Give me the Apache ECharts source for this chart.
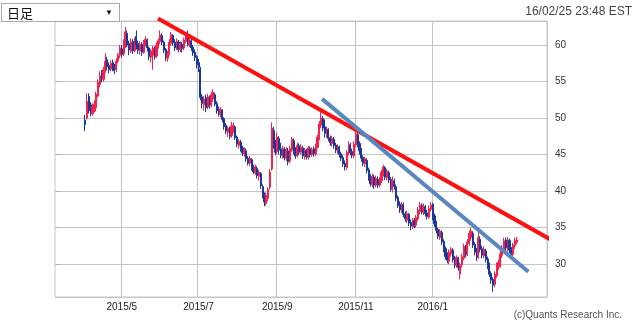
<!DOCTYPE html>
<html>
<head>
<meta charset="utf-8">
<script src="https://cdn.jsdelivr.net/npm/echarts@6/dist/echarts.min.js"></script>
<style>
  html, body { margin: 0; padding: 0; background: #fff; }
  #wrap { position: relative; width: 640px; height: 324px; overflow: hidden; font-family: "Liberation Sans", Arial, sans-serif; }
  #chart { position: absolute; left: 0; top: 0; width: 640px; height: 324px; }
  #period { position: absolute; left: 1px; top: 3px; width: 117px; height: 17px; border: 1px solid #a8a8a8; background: #fff; box-sizing: content-box; }
  #period .txt { position: absolute; left: 5px; top: 0; font-family: "Noto Sans CJK JP", sans-serif; font-size: 13px; line-height: 17px; color: #111; }
  #period .arr { position: absolute; right: 6px; top: 0; font-size: 8px; line-height: 17px; color: #111; }
  #stamp { position: absolute; right: 8px; top: 4px; font-size: 12px; color: #444; }
  #credit { position: absolute; right: 18px; top: 309px; font-size: 10px; color: #555; }
</style>
</head>
<body>
<div id="wrap">
  <div id="chart"></div>
  <div id="period"><span class="txt">日足</span><span class="arr">▼</span></div>
  <div id="stamp">16/02/25 23:48 EST</div>
  <div id="credit">(c)Quants Research Inc.</div>
</div>
<script>
// Daily candles: [open, close, low, high], first session 2015/04/02
const firstSession = '2015/04/02';
const candles = [
  [49.7,49.1,48.2,50.4],[50.0,52.3,49.8,53.4],[53.0,51.0,50.6,53.4],[51.8,50.6,50.2,52.2],[50.6,51.6,50.3,52.0],
  [51.2,51.9,50.8,52.4],[51.4,53.3,50.9,53.6],[53.0,54.9,52.8,55.3],[54.6,55.8,54.2,56.4],[56.2,55.4,54.9,56.6],
  [55.3,56.6,55.0,57.0],[56.5,57.8,56.2,58.9],[58.0,57.0,56.5,58.4],[57.2,56.6,56.1,57.6],[56.7,57.5,56.4,57.9],
  [57.6,56.9,56.4,58.0],[57.0,56.5,56.0,57.4],[56.6,57.8,56.3,58.2],[57.8,58.6,57.5,58.9],[58.6,59.6,58.2,60.0],
  [59.5,58.7,58.3,60.0],[58.8,60.2,58.5,60.8],[60.0,61.8,59.6,62.5],[61.6,60.0,59.7,62.0],[60.2,59.3,58.6,60.6],
  [59.2,60.4,58.9,60.9],[60.5,59.2,58.8,60.8],[59.2,60.6,59.0,61.0],[61.2,60.0,59.4,62.0],[60.2,59.3,58.8,60.6],
  [59.2,60.1,58.7,60.5],[60.1,59.0,58.5,60.4],[59.0,60.3,58.8,60.7],[60.2,60.8,59.8,61.2],[60.6,59.6,59.1,60.9],
  [59.6,58.4,57.9,59.8],[58.3,59.2,57.6,59.5],[58.6,59.6,56.6,59.9],[59.5,58.4,58.0,59.8],[58.5,60.0,58.2,60.4],
  [59.9,60.6,59.5,60.9],[60.5,61.4,60.1,62.0],[61.3,60.4,60.0,61.6],[60.4,59.3,58.9,60.6],[59.4,58.3,57.8,59.6],
  [58.2,58.8,57.7,59.2],[58.9,60.4,58.6,60.8],[60.2,61.4,59.9,61.8],[61.3,60.3,59.9,61.5],[60.4,59.6,59.2,60.8],
  [59.6,60.5,59.3,60.9],[60.4,59.4,59.0,60.7],[59.4,60.2,59.0,60.5],[60.1,59.5,59.0,60.4],[59.6,60.7,59.3,61.0],
  [60.5,61.3,60.2,61.6],[61.4,60.1,59.8,62.0],[60.0,60.8,59.7,61.1],[60.6,59.6,59.2,60.9],[59.7,58.9,58.5,60.0],
  [59.0,58.3,57.8,59.4],[58.4,57.3,56.8,58.6],[57.6,56.9,56.3,58.1],[56.7,52.8,52.4,57.0],[52.9,52.0,51.3,53.3],
  [51.8,52.6,51.0,53.0],[52.8,51.4,50.8,53.2],[51.5,52.9,51.2,53.3],[52.8,51.8,51.3,53.1],[51.8,53.2,51.5,53.6],
  [52.6,53.5,52.2,53.9],[53.2,51.9,51.6,53.5],[52.0,51.0,50.6,52.3],[51.2,50.6,50.2,51.6],[50.5,51.2,50.1,51.5],
  [51.0,49.8,49.4,51.2],[49.9,48.8,48.4,50.1],[49.0,48.2,47.8,49.3],[48.0,48.6,47.4,48.9],[48.5,47.5,47.1,48.8],
  [47.6,48.9,47.3,49.5],[48.4,49.0,48.0,49.4],[48.8,47.3,47.0,49.0],[47.4,46.4,46.0,47.6],[46.2,46.8,45.8,47.1],
  [46.7,45.8,45.4,47.0],[45.9,45.2,44.8,46.2],[45.1,45.7,44.7,46.0],[45.5,44.4,44.0,45.8],[44.5,43.8,43.5,44.8],
  [43.8,44.5,43.4,44.8],[44.3,43.2,42.8,44.5],[43.3,42.6,42.3,43.6],[42.5,43.3,42.2,43.6],[43.1,42.1,41.7,43.4],
  [42.0,42.6,41.4,42.9],[42.4,40.7,40.3,42.6],[40.6,39.4,39.0,40.9],[39.5,38.5,37.9,39.8],[38.3,39.4,38.0,39.8],
  [39.0,40.2,38.6,40.5],[40.5,42.6,40.2,43.0],[43.0,48.6,42.8,49.4],[48.3,46.4,45.8,48.8],[46.6,45.3,44.9,47.0],
  [45.4,47.4,45.1,48.0],[47.2,45.6,45.0,47.5],[45.8,44.9,44.5,46.6],[44.8,45.8,44.4,46.2],[45.7,44.6,44.2,46.0],
  [44.5,45.6,44.1,46.0],[45.5,44.0,43.5,45.9],[44.1,45.8,43.8,46.2],[45.6,47.1,45.3,47.4],[46.9,45.4,45.0,47.2],
  [45.6,44.8,44.4,46.0],[44.9,46.2,44.6,46.6],[46.2,45.3,44.9,46.5],[45.3,46.0,45.0,46.4],[45.9,44.8,44.4,46.2],
  [44.7,45.6,44.3,45.9],[45.5,44.7,44.3,45.8],[44.6,45.9,44.3,46.2],[45.8,45.0,44.6,46.1],[45.0,45.7,44.7,46.0],
  [45.8,45.1,44.7,46.1],[45.1,46.2,44.8,46.5],[46.0,47.4,45.8,47.7],[47.3,49.2,47.0,49.6],[49.0,50.0,48.6,50.8],
  [49.9,48.6,48.2,50.3],[48.8,47.9,47.3,49.8],[47.7,48.5,47.3,48.8],[48.4,47.2,46.8,48.6],[47.3,46.6,46.2,47.6],
  [46.5,47.2,46.1,47.5],[47.1,46.2,45.8,47.4],[46.3,45.6,45.2,46.6],[45.5,46.1,45.1,46.4],[46.0,45.0,44.6,46.2],
  [45.1,44.5,44.1,45.4],[44.6,43.7,43.3,44.9],[43.8,43.3,42.8,44.2],[43.2,45.3,42.9,45.6],[45.2,46.4,44.9,46.8],
  [46.2,45.3,44.9,46.6],[45.4,44.9,44.5,45.8],[44.8,46.4,44.5,46.8],[46.3,47.8,46.0,48.4],[47.7,46.4,46.0,48.0],
  [46.5,45.5,45.0,46.8],[45.6,44.5,44.0,45.9],[44.6,43.8,43.4,44.9],[43.7,44.4,43.3,44.7],[44.2,42.8,42.4,44.5],
  [42.9,41.8,41.4,43.2],[41.9,41.0,40.6,42.3],[40.9,42.0,40.5,42.4],[41.9,40.8,40.3,42.2],[40.8,41.7,40.5,42.1],
  [41.6,40.8,40.4,42.0],[40.8,41.6,40.5,41.9],[41.4,42.6,41.1,42.9],[42.4,43.3,42.0,43.6],[43.2,41.9,41.5,43.4],
  [41.8,42.7,41.5,43.0],[42.5,41.5,41.1,42.8],[41.6,40.3,39.9,41.9],[40.2,41.6,39.8,42.0],[41.4,40.6,40.2,41.7],
  [40.6,39.0,38.6,40.9],[39.1,38.0,37.7,39.4],[38.2,37.4,37.0,38.6],[37.3,38.2,37.0,38.5],[38.1,36.8,36.4,38.4],
  [36.9,36.2,35.8,37.2],[36.0,36.9,35.6,37.3],[36.8,35.6,35.2,37.0],[35.7,35.2,34.6,36.1],[35.1,36.0,34.8,36.3],
  [35.9,35.3,34.9,36.3],[35.3,36.4,35.0,36.7],[36.2,37.4,35.9,37.8],[37.2,38.1,36.8,38.5],[38.0,37.2,36.8,38.3],
  [37.1,37.9,36.7,38.3],[37.8,36.9,36.5,38.1],[37.0,36.5,36.1,37.4],[36.4,37.6,36.2,38.0],[37.5,38.1,37.2,38.5],
  [38.2,36.5,36.0,38.4],[36.6,35.5,35.1,36.9],[35.6,34.6,34.2,35.9],[34.7,33.8,33.4,35.0],[33.6,34.5,33.3,34.8],
  [34.3,33.0,32.6,34.6],[33.1,32.0,31.6,33.4],[32.1,31.0,30.6,32.4],[31.2,30.5,30.1,31.6],[30.4,31.6,30.0,32.0],
  [31.4,32.0,31.0,32.3],[31.9,30.6,30.2,32.2],[30.8,29.9,29.4,31.1],[29.8,30.9,29.5,31.2],[30.7,29.5,29.1,31.0],
  [28.6,29.9,27.9,30.2],[29.9,31.0,29.5,31.4],[30.8,32.4,30.5,32.8],[32.2,31.3,30.9,32.6],[31.4,33.0,31.1,33.4],
  [32.8,34.2,32.5,34.6],[33.6,34.5,33.2,35.0],[34.2,32.6,32.2,34.5],[32.7,31.6,31.2,33.0],[31.8,30.9,30.4,32.2],
  [31.0,33.6,30.7,34.5],[33.4,32.0,31.6,33.8],[32.1,31.2,30.8,32.5],[31.1,32.0,30.8,32.4],[31.8,30.6,30.2,32.1],
  [30.7,29.8,29.3,31.0],[29.9,28.6,28.2,30.2],[28.7,27.8,27.3,29.0],[27.9,27.1,26.2,28.2],[27.2,28.6,26.8,29.0],
  [28.4,29.8,28.1,30.2],[29.6,30.2,29.2,30.6],[29.8,31.4,29.5,31.8],[31.2,32.2,30.8,32.6],[32.0,33.2,31.7,33.6],
  [33.3,32.2,31.8,33.6],[32.0,33.3,31.7,33.7],[33.2,31.9,31.5,33.5],[32.0,31.4,31.0,32.3],[31.3,32.6,31.0,32.9],
  [32.5,33.2,32.1,33.6],[33.0,33.3,32.7,33.7]
];

// Session calendar shown on the time axis
const axisStart = '2015/03/11';
const sessionCount = 269;
const marketHolidays = ['2015/04/03','2015/05/25','2015/07/03','2015/09/07','2015/11/26','2015/12/25','2016/01/01','2016/01/18','2016/02/15','2016/03/25'];

// Month labels printed under the axis
const monthLabels = ['2015/5','2015/7','2015/9','2015/11','2016/1'];

// Trend lines: [session index, price]
const resistanceLine = [[55.8, 63.62], [272.3, 33.09]];
const channelLine = [[145.5, 52.62], [258.3, 28.95]];

// Price axis range
const priceMin = 25.48;
const priceMax = 63.29;

function pad2(n) { return (n < 10 ? '0' : '') + n; }
function fmt(d) { return d.getFullYear() + '/' + pad2(d.getMonth() + 1) + '/' + pad2(d.getDate()); }

function buildSessions(start, count, holidays) {
  const p = start.split('/').map(Number);
  const d = new Date(p[0], p[1] - 1, p[2]);
  const out = [];
  while (out.length < count) {
    const wd = d.getDay();
    const s = fmt(d);
    if (wd !== 0 && wd !== 6 && holidays.indexOf(s) < 0) out.push(s);
    d.setDate(d.getDate() + 1);
  }
  return out;
}

const sessions = buildSessions(axisStart, sessionCount, marketHolidays);

// first session of each labelled month
const monthStart = {};
sessions.forEach(function (s, i) {
  const p = s.split('/');
  const key = Number(p[0]) + '/' + Number(p[1]);
  if (monthStart[key] === undefined) monthStart[key] = i;
});
function isMonthTick(index) {
  return monthLabels.some(function (m) { return monthStart[m] === index; });
}
function monthOf(value) {
  const p = value.split('/');
  return Number(p[0]) + '/' + Number(p[1]);
}

const offset = sessions.indexOf(firstSession);
const candleData = sessions.map(function (s, i) {
  const k = i - offset;
  return (k >= 0 && k < candles.length) ? candles[k] : '-';
});

const chart = echarts.init(document.getElementById('chart'), null, { renderer: 'canvas' });

const gridColor = '#c4c4c4';
const upColor = '#f5204c';
const downColor = '#18389a';

chart.setOption({
  animation: false,
  grid: {
    left: 55, right: 93, top: 21, bottom: 27,
    show: true, borderColor: '#c8c8c8', borderWidth: 1, backgroundColor: 'transparent'
  },
  xAxis: [
    {
      type: 'category',
      data: sessions,
      boundaryGap: true,
      axisLine: { show: false },
      axisTick: { show: false },
      axisLabel: {
        interval: function (i) { return isMonthTick(i); },
        formatter: function (v) { return monthOf(v); },
        color: '#222',
        fontSize: 10,
        fontFamily: 'Liberation Sans',
        margin: 5
      },
      splitLine: {
        show: true,
        interval: function (i) { return isMonthTick(i); },
        lineStyle: { color: gridColor, width: 1 }
      }
    },
    {
      type: 'value',
      min: -0.5,
      max: sessionCount - 0.5,
      show: false
    }
  ],
  yAxis: {
    type: 'value',
    position: 'right',
    min: priceMin,
    max: priceMax,
    splitNumber: 8,
    axisLine: { show: false },
    axisTick: { show: true, length: 4, lineStyle: { color: '#b0b0b0' } },
    axisLabel: {
      showMinLabel: false,
      showMaxLabel: false,
      color: '#333',
      fontSize: 10,
      fontFamily: 'Liberation Sans',
      margin: 8
    },
    splitLine: { show: true, lineStyle: { color: gridColor, width: 1 } }
  },
  series: [
    {
      type: 'candlestick',
      data: candleData,
      barWidth: 1.6,
      itemStyle: {
        color: upColor,
        color0: downColor,
        borderColor: upColor,
        borderColor0: downColor,
        borderWidth: 1
      }
    },
    {
      type: 'line',
      xAxisIndex: 1,
      data: resistanceLine,
      clip: false,
      symbol: 'none',
      lineStyle: { color: '#ff1010', width: 4, cap: 'butt' },
      z: 5
    },
    {
      type: 'line',
      xAxisIndex: 1,
      data: channelLine,
      clip: false,
      symbol: 'none',
      lineStyle: { color: '#5b87c0', width: 4, cap: 'butt' },
      z: 5
    }
  ]
});
</script>
</body>
</html>
